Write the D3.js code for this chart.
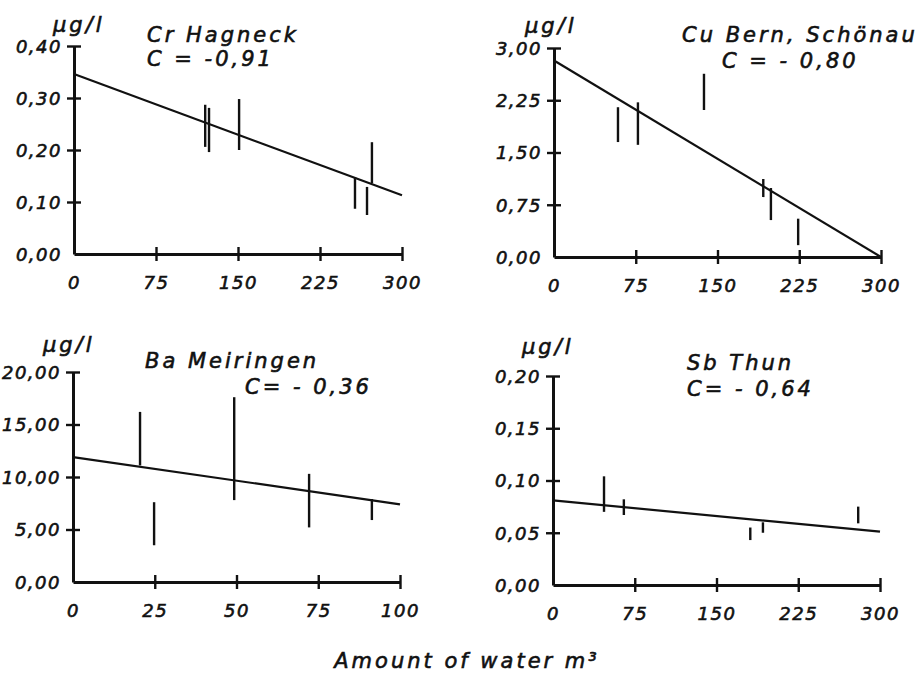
<!DOCTYPE html>
<html>
<head>
<meta charset="utf-8">
<script src="https://cdn.jsdelivr.net/npm/d3@7"></script>
<style>
  body { margin: 0; background: #fff; }
  svg text { font-family: "DejaVu Sans", sans-serif; font-style: italic; fill: #111; stroke: #111; stroke-width: 0.6px; }
  .tick text { font-size: 18px; letter-spacing: 1.5px; }
  .unit { font-size: 21px; letter-spacing: 3px; }
  .title { font-size: 21px; letter-spacing: 3px; }
</style>
</head>
<body>
<div id="chart"></div>
<script>
// Cr Hagneck
const crAmount = [120, 123.5, 151, 257, 268, 272.5];
const crLow = [0.206, 0.196, 0.200, 0.087, 0.075, 0.136];
const crHigh = [0.287, 0.281, 0.298, 0.148, 0.129, 0.215];
const crFit = [0.346, 0.113];
const crTicks = [0, 0.1, 0.2, 0.3, 0.4];

// Cu Bern, Schönau
const cuAmount = [58.7, 77, 137.6, 192, 199, 224];
const cuLow = [1.65, 1.61, 2.11, 0.86, 0.53, 0.17];
const cuHigh = [2.15, 2.22, 2.63, 1.12, 0.99, 0.55];
const cuFit = [2.82, 0];
const cuTicks = [0, 0.75, 1.5, 2.25, 3];

// Ba Meiringen
const baAmount = [20.5, 24.8, 49.3, 72.2, 91.4];
const baLow = [11.1, 3.5, 7.8, 5.2, 5.9];
const baHigh = [16.2, 7.6, 17.6, 10.3, 7.9];
const baFit = [11.9, 7.4];
const baTicks = [0, 5, 10, 15, 20];

// Sb Thun
const sbAmount = [46.8, 65, 181, 192.6, 280];
const sbLow = [0.070, 0.067, 0.043, 0.050, 0.059];
const sbHigh = [0.104, 0.082, 0.055, 0.060, 0.075];
const sbFit = [0.081, 0.051];
const sbTicks = [0, 0.05, 0.1, 0.15, 0.2];

const xTicks300 = [0, 75, 150, 225, 300];
const xTicks100 = [0, 25, 50, 75, 100];

const svg = d3.select("#chart").append("svg")
    .attr("width", 919)
    .attr("height", 684);

const fmt = v => d3.format(".2f")(v).replace(".", ",");

function drawPanel(p) {
    const x = d3.scaleLinear().domain([0, p.xMax]).range([p.left, p.right]);
    const y = d3.scaleLinear().domain([0, p.yMax]).range([p.bottom, p.top]);

    const g = svg.append("g");

    // y axis
    const ya = g.append("g")
        .attr("transform", `translate(${p.left},0)`)
        .call(d3.axisLeft(y).tickValues(p.yTicks).tickFormat(fmt)
            .tickSizeInner(7).tickSizeOuter(0).tickPadding(5));
    ya.attr("font-size", null).attr("font-family", null);
    ya.select(".domain").attr("stroke", "#111").attr("stroke-width", 3);
    ya.selectAll(".tick line").attr("x1", 7).attr("stroke", "#111").attr("stroke-width", 2.4);
    ya.selectAll(".tick").filter(d => d === 0).select("line").remove();
    ya.selectAll(".tick text").attr("dy", "0.36em");

    // x axis
    const xa = g.append("g")
        .attr("transform", `translate(0,${p.bottom})`)
        .call(d3.axisBottom(x).tickValues(p.xTicks)
            .tickSizeInner(7).tickSizeOuter(0).tickPadding(15));
    xa.attr("font-size", null).attr("font-family", null);
    xa.select(".domain").attr("stroke", "#111").attr("stroke-width", 3);
    xa.selectAll(".tick line").attr("y1", -7).attr("stroke", "#111").attr("stroke-width", 2.4);
    xa.selectAll(".tick").filter(d => d === 0).select("line").remove();

    // regression line
    const line = d3.line().x(d => x(d[0])).y(d => y(d[1]));
    g.append("path")
        .attr("d", line([[0, p.fit[0]], [p.xMax, p.fit[1]]]))
        .attr("fill", "none")
        .attr("stroke", "#111")
        .attr("stroke-width", 2.2);

    // measured ranges
    g.selectAll(".bar")
        .data(p.amount)
        .enter().append("line")
        .attr("class", "bar")
        .attr("x1", d => x(d))
        .attr("x2", d => x(d))
        .attr("y1", (d, i) => y(p.low[i]))
        .attr("y2", (d, i) => y(p.high[i]))
        .attr("stroke", "#111")
        .attr("stroke-width", 2.4);

    g.append("text").attr("class", "unit")
        .attr("x", p.unitX).attr("y", p.unitY)
        .text("µg/l");
    g.append("text").attr("class", "title")
        .attr("x", p.titleX).attr("y", p.titleY)
        .text(p.title);
    g.append("text").attr("class", "title")
        .attr("x", p.cX).attr("y", p.cY)
        .text(p.corr);
}

drawPanel({
    left: 74, right: 402, top: 46, bottom: 254, xMax: 300, yMax: 0.4,
    xTicks: xTicks300, yTicks: crTicks,
    amount: crAmount, low: crLow, high: crHigh, fit: crFit,
    unitX: 53, unitY: 32, title: "Cr Hagneck", titleX: 147, titleY: 42,
    corr: "C = -0,91", cX: 147, cY: 66
});
drawPanel({
    left: 554, right: 881, top: 48, bottom: 257, xMax: 300, yMax: 3,
    xTicks: xTicks300, yTicks: cuTicks,
    amount: cuAmount, low: cuLow, high: cuHigh, fit: cuFit,
    unitX: 525, unitY: 33, title: "Cu Bern, Schönau", titleX: 682, titleY: 42,
    corr: "C = - 0,80", cX: 722, cY: 68
});
drawPanel({
    left: 73, right: 400, top: 372, bottom: 582, xMax: 100, yMax: 20,
    xTicks: xTicks100, yTicks: baTicks,
    amount: baAmount, low: baLow, high: baHigh, fit: baFit,
    unitX: 43, unitY: 352, title: "Ba Meiringen", titleX: 145, titleY: 368,
    corr: "C= - 0,36", cX: 245, cY: 394
});
drawPanel({
    left: 553, right: 880, top: 376, bottom: 585, xMax: 300, yMax: 0.2,
    xTicks: xTicks300, yTicks: sbTicks,
    amount: sbAmount, low: sbLow, high: sbHigh, fit: sbFit,
    unitX: 522, unitY: 354, title: "Sb Thun", titleX: 687, titleY: 370,
    corr: "C= - 0,64", cX: 687, cY: 396
});

svg.append("text").attr("class", "title")
    .attr("x", 467).attr("y", 668)
    .attr("text-anchor", "middle")
    .text("Amount of water m³");
</script>
</body>
</html>
